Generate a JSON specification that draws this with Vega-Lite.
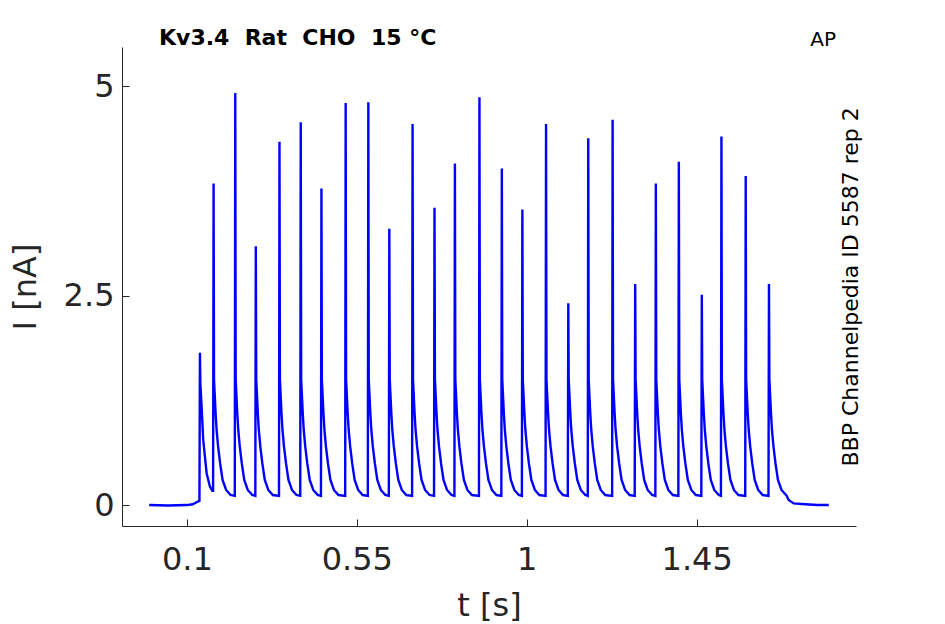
{
"$schema": "https://vega.github.io/schema/vega-lite/v6.json",
"width": 734,
"height": 479,
"autosize": {"type": "none"},
"padding": {"left": 122, "top": 47, "right": 89, "bottom": 98},
"background": "white",
"config": {
  "view": {"stroke": null},
  "axis": {"domainColor": "#262626", "tickColor": "#262626", "labelColor": "#262626", "titleColor": "#262626", "grid": false, "labelFont": "DejaVu Sans", "titleFont": "DejaVu Sans", "labelFontSize": 32, "titleFontSize": 32, "titleFontWeight": "normal", "tickSize": -7, "domainWidth": 1, "tickWidth": 1}
},
"title": {"text": "Kv3.4 \u00a0Rat \u00a0CHO \u00a015 °C", "anchor": "start", "frame": "group", "dx": 37, "dy": 37, "fontSize": 22, "fontWeight": "bold", "font": "DejaVu Sans", "color": "black", "offset": 0, "baseline": "alphabetic"},
"data": {"values": [
{"t":0,"i":0},{"t":0.05,"i":-0.005},{"t":0.1,"i":0},{"t":0.115,"i":0.01},{"t":0.128,"i":0.04},{"t":0.1331,"i":0.05},
{"t":0.1344,"i":1.82},{"t":0.1355,"i":1.45},{"t":0.1389,"i":1.17},{"t":0.1431,"i":0.78},{"t":0.1521,"i":0.38},{"t":0.1608,"i":0.22},{"t":0.1674,"i":0.17},{"t":0.1693,"i":0.17},
{"t":0.1706,"i":3.84},{"t":0.1717,"i":1.5},{"t":0.1759,"i":1.1},{"t":0.1785,"i":0.9},{"t":0.1825,"i":0.7},{"t":0.1878,"i":0.5},{"t":0.1944,"i":0.3},{"t":0.2037,"i":0.18},{"t":0.2156,"i":0.12},{"t":0.2267,"i":0.11},
{"t":0.2280,"i":4.92},{"t":0.2291,"i":1.5},{"t":0.2333,"i":1.1},{"t":0.2359,"i":0.9},{"t":0.2399,"i":0.7},{"t":0.2452,"i":0.5},{"t":0.2518,"i":0.3},{"t":0.2611,"i":0.18},{"t":0.2730,"i":0.12},{"t":0.2811,"i":0.11},
{"t":0.2824,"i":3.09},{"t":0.2835,"i":1.5},{"t":0.2877,"i":1.1},{"t":0.2903,"i":0.9},{"t":0.2943,"i":0.7},{"t":0.2996,"i":0.5},{"t":0.3062,"i":0.3},{"t":0.3155,"i":0.18},{"t":0.3274,"i":0.12},{"t":0.3438,"i":0.11},
{"t":0.3451,"i":4.34},{"t":0.3462,"i":1.5},{"t":0.3504,"i":1.1},{"t":0.3530,"i":0.9},{"t":0.3570,"i":0.7},{"t":0.3623,"i":0.5},{"t":0.3689,"i":0.3},{"t":0.3782,"i":0.18},{"t":0.3901,"i":0.12},{"t":0.4001,"i":0.11},
{"t":0.4014,"i":4.57},{"t":0.4025,"i":1.5},{"t":0.4067,"i":1.1},{"t":0.4093,"i":0.9},{"t":0.4133,"i":0.7},{"t":0.4186,"i":0.5},{"t":0.4252,"i":0.3},{"t":0.4345,"i":0.18},{"t":0.4464,"i":0.12},{"t":0.4549,"i":0.11},
{"t":0.4562,"i":3.78},{"t":0.4573,"i":1.5},{"t":0.4615,"i":1.1},{"t":0.4641,"i":0.9},{"t":0.4681,"i":0.7},{"t":0.4734,"i":0.5},{"t":0.4800,"i":0.3},{"t":0.4893,"i":0.18},{"t":0.5012,"i":0.12},{"t":0.5191,"i":0.11},
{"t":0.5204,"i":4.80},{"t":0.5215,"i":1.5},{"t":0.5257,"i":1.1},{"t":0.5283,"i":0.9},{"t":0.5323,"i":0.7},{"t":0.5376,"i":0.5},{"t":0.5442,"i":0.3},{"t":0.5535,"i":0.18},{"t":0.5654,"i":0.12},{"t":0.5791,"i":0.11},
{"t":0.5804,"i":4.81},{"t":0.5815,"i":1.5},{"t":0.5857,"i":1.1},{"t":0.5883,"i":0.9},{"t":0.5923,"i":0.7},{"t":0.5976,"i":0.5},{"t":0.6042,"i":0.3},{"t":0.6135,"i":0.18},{"t":0.6254,"i":0.12},{"t":0.6347,"i":0.11},
{"t":0.6360,"i":3.30},{"t":0.6371,"i":1.5},{"t":0.6413,"i":1.1},{"t":0.6439,"i":0.9},{"t":0.6479,"i":0.7},{"t":0.6532,"i":0.5},{"t":0.6598,"i":0.3},{"t":0.6691,"i":0.18},{"t":0.6810,"i":0.12},{"t":0.6963,"i":0.11},
{"t":0.6976,"i":4.55},{"t":0.6987,"i":1.5},{"t":0.7029,"i":1.1},{"t":0.7055,"i":0.9},{"t":0.7095,"i":0.7},{"t":0.7148,"i":0.5},{"t":0.7214,"i":0.3},{"t":0.7307,"i":0.18},{"t":0.7426,"i":0.12},{"t":0.7544,"i":0.11},
{"t":0.7557,"i":3.55},{"t":0.7568,"i":1.5},{"t":0.7610,"i":1.1},{"t":0.7636,"i":0.9},{"t":0.7676,"i":0.7},{"t":0.7729,"i":0.5},{"t":0.7795,"i":0.3},{"t":0.7888,"i":0.18},{"t":0.8007,"i":0.12},{"t":0.8084,"i":0.11},
{"t":0.8097,"i":4.08},{"t":0.8108,"i":1.5},{"t":0.8150,"i":1.1},{"t":0.8176,"i":0.9},{"t":0.8216,"i":0.7},{"t":0.8269,"i":0.5},{"t":0.8335,"i":0.3},{"t":0.8428,"i":0.18},{"t":0.8547,"i":0.12},{"t":0.8734,"i":0.11},
{"t":0.8747,"i":4.87},{"t":0.8758,"i":1.5},{"t":0.8800,"i":1.1},{"t":0.8826,"i":0.9},{"t":0.8866,"i":0.7},{"t":0.8919,"i":0.5},{"t":0.8985,"i":0.3},{"t":0.9078,"i":0.18},{"t":0.9197,"i":0.12},{"t":0.9327,"i":0.11},
{"t":0.9340,"i":4.02},{"t":0.9351,"i":1.5},{"t":0.9393,"i":1.1},{"t":0.9419,"i":0.9},{"t":0.9459,"i":0.7},{"t":0.9512,"i":0.5},{"t":0.9578,"i":0.3},{"t":0.9671,"i":0.18},{"t":0.9790,"i":0.12},{"t":0.9871,"i":0.11},
{"t":0.9884,"i":3.53},{"t":0.9895,"i":1.5},{"t":0.9937,"i":1.1},{"t":0.9963,"i":0.9},{"t":1.0003,"i":0.7},{"t":1.0056,"i":0.5},{"t":1.0122,"i":0.3},{"t":1.0215,"i":0.18},{"t":1.0334,"i":0.12},{"t":1.0498,"i":0.11},
{"t":1.0511,"i":4.55},{"t":1.0522,"i":1.5},{"t":1.0564,"i":1.1},{"t":1.0590,"i":0.9},{"t":1.0630,"i":0.7},{"t":1.0683,"i":0.5},{"t":1.0749,"i":0.3},{"t":1.0842,"i":0.18},{"t":1.0961,"i":0.12},{"t":1.1087,"i":0.11},
{"t":1.1100,"i":2.41},{"t":1.1111,"i":1.5},{"t":1.1153,"i":1.1},{"t":1.1179,"i":0.9},{"t":1.1219,"i":0.7},{"t":1.1272,"i":0.5},{"t":1.1338,"i":0.3},{"t":1.1431,"i":0.18},{"t":1.1550,"i":0.12},{"t":1.1616,"i":0.11},
{"t":1.1629,"i":4.38},{"t":1.1640,"i":1.5},{"t":1.1682,"i":1.1},{"t":1.1708,"i":0.9},{"t":1.1748,"i":0.7},{"t":1.1801,"i":0.5},{"t":1.1867,"i":0.3},{"t":1.1960,"i":0.18},{"t":1.2079,"i":0.12},{"t":1.2261,"i":0.11},
{"t":1.2274,"i":4.60},{"t":1.2285,"i":1.5},{"t":1.2327,"i":1.1},{"t":1.2353,"i":0.9},{"t":1.2393,"i":0.7},{"t":1.2446,"i":0.5},{"t":1.2512,"i":0.3},{"t":1.2605,"i":0.18},{"t":1.2724,"i":0.12},{"t":1.2859,"i":0.11},
{"t":1.2872,"i":2.64},{"t":1.2883,"i":1.5},{"t":1.2925,"i":1.1},{"t":1.2951,"i":0.9},{"t":1.2991,"i":0.7},{"t":1.3044,"i":0.5},{"t":1.3110,"i":0.3},{"t":1.3203,"i":0.18},{"t":1.3322,"i":0.12},{"t":1.3406,"i":0.11},
{"t":1.3419,"i":3.84},{"t":1.3430,"i":1.5},{"t":1.3472,"i":1.1},{"t":1.3498,"i":0.9},{"t":1.3538,"i":0.7},{"t":1.3591,"i":0.5},{"t":1.3657,"i":0.3},{"t":1.3750,"i":0.18},{"t":1.3869,"i":0.12},{"t":1.4015,"i":0.11},
{"t":1.4028,"i":4.10},{"t":1.4039,"i":1.5},{"t":1.4081,"i":1.1},{"t":1.4107,"i":0.9},{"t":1.4147,"i":0.7},{"t":1.4200,"i":0.5},{"t":1.4266,"i":0.3},{"t":1.4359,"i":0.18},{"t":1.4478,"i":0.12},{"t":1.4623,"i":0.11},
{"t":1.4636,"i":2.51},{"t":1.4647,"i":1.5},{"t":1.4689,"i":1.1},{"t":1.4715,"i":0.9},{"t":1.4755,"i":0.7},{"t":1.4808,"i":0.5},{"t":1.4874,"i":0.3},{"t":1.4967,"i":0.18},{"t":1.5086,"i":0.12},{"t":1.5143,"i":0.11},
{"t":1.5156,"i":4.40},{"t":1.5167,"i":1.5},{"t":1.5209,"i":1.1},{"t":1.5235,"i":0.9},{"t":1.5275,"i":0.7},{"t":1.5328,"i":0.5},{"t":1.5394,"i":0.3},{"t":1.5487,"i":0.18},{"t":1.5606,"i":0.12},{"t":1.5786,"i":0.11},
{"t":1.5799,"i":3.93},{"t":1.5810,"i":1.5},{"t":1.5852,"i":1.1},{"t":1.5878,"i":0.9},{"t":1.5918,"i":0.7},{"t":1.5971,"i":0.5},{"t":1.6037,"i":0.3},{"t":1.6130,"i":0.18},{"t":1.6249,"i":0.12},{"t":1.6402,"i":0.11},
{"t":1.6415,"i":2.64},{"t":1.6426,"i":1.5},{"t":1.6468,"i":1.1},{"t":1.6494,"i":0.9},{"t":1.6534,"i":0.7},{"t":1.6587,"i":0.5},{"t":1.6653,"i":0.3},{"t":1.6746,"i":0.18},{"t":1.6849,"i":0.13},{"t":1.6885,"i":0.11},{"t":1.6936,"i":0.06},{"t":1.7069,"i":0.02},{"t":1.7378,"i":0.01},{"t":1.77,"i":0},{"t":1.8,"i":0}
]},
"layer": [
  {
    "mark": {"type": "line", "color": "#0000ff", "strokeWidth": 2.4, "clip": false},
    "encoding": {
      "x": {"field": "t", "type": "quantitative", "scale": {"domain": [-0.072, 1.872], "nice": false, "zero": false}, "axis": {"title": "t [s]", "values": [0.1, 0.55, 1, 1.45], "labelExpr": "datum.value", "labelPadding": 25, "titlePadding": 15}},
      "y": {"field": "i", "type": "quantitative", "scale": {"domain": [-0.25, 5.47], "nice": false, "zero": false}, "axis": {"title": "I [nA]", "values": [0, 2.5, 5], "labelExpr": "datum.value", "labelPadding": 15, "titlePadding": 21}}
    }
  },
  {
    "data": {"values": [{"label": "AP"}]},
    "mark": {"type": "text", "font": "DejaVu Sans", "fontSize": 20, "fontWeight": "normal", "align": "left", "baseline": "alphabetic", "color": "black"},
    "encoding": {"text": {"field": "label"}, "x": {"datum": 1.751}, "y": {"datum": 5.48}}
  },
  {
    "data": {"values": [{"label": "BBP Channelpedia ID 5587 rep 2"}]},
    "mark": {"type": "text", "font": "DejaVu Sans", "fontSize": 22, "fontWeight": "normal", "angle": 270, "align": "center", "baseline": "alphabetic", "color": "black"},
    "encoding": {"text": {"field": "label"}, "x": {"datum": 1.8774}, "y": {"datum": 2.606}}
  }
]
}
